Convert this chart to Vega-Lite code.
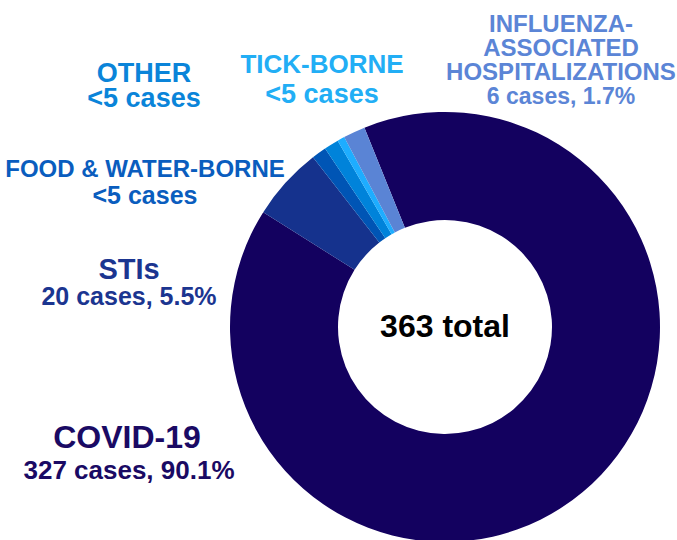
{
  "$schema": "https://vega.github.io/schema/vega-lite/v6.json",
  "width": 430,
  "height": 430,
  "autosize": {"type": "none"},
  "padding": {"left": 230, "top": 112, "right": 17, "bottom": 0},
  "background": "white",
  "config": {"view": {"stroke": null}, "font": "Arial", "text": {"font": "Arial"}},
  "data": {
    "values": [
      {"rank": 1, "category": "COVID-19", "cases": 327, "detail": "327 cases, 90.1%"},
      {"rank": 2, "category": "STIs", "cases": 20, "detail": "20 cases, 5.5%"},
      {"rank": 3, "category": "FOOD & WATER-BORNE", "cases": 4, "detail": "<5 cases"},
      {"rank": 4, "category": "OTHER", "cases": 4, "detail": "<5 cases"},
      {"rank": 5, "category": "TICK-BORNE", "cases": 2, "detail": "<5 cases"},
      {"rank": 6, "category": "INFLUENZA-\nASSOCIATED\nHOSPITALIZATIONS", "cases": 6, "detail": "6 cases, 1.7%"}
    ]
  },
  "transform": [
    {"stack": "cases", "groupby": [], "sort": [{"field": "rank", "order": "ascending"}], "as": ["start", "end"]}
  ],
  "layer": [
    {
      "mark": {"type": "arc", "innerRadius": 107, "outerRadius": 215},
      "encoding": {
        "theta": {"field": "start", "type": "quantitative", "stack": null, "scale": {"domain": [0, 363], "range": [-0.384, 5.899]}},
        "theta2": {"field": "end"},
        "color": {
          "field": "category", "type": "nominal", "legend": null,
          "scale": {
            "domain": ["COVID-19", "STIs", "FOOD & WATER-BORNE", "OTHER", "TICK-BORNE", "INFLUENZA-\nASSOCIATED\nHOSPITALIZATIONS"],
            "range": ["#13015f", "#15328d", "#0055b5", "#0083da", "#1eadff", "#5a84d5"]
          }
        }
      }
    },
    {
      "transform": [{"filter": "datum.rank == 1"}],
      "mark": {"type": "text", "font": "Liberation Sans", "radius": 0, "dx": -318, "dy": 121, "fontSize": 32, "fontWeight": "bold", "fill": "#1a0a64", "align": "center", "baseline": "alphabetic"},
      "encoding": {"theta": {"field": "start", "type": "quantitative", "stack": null}, "text": {"field": "category"}}
    },
    {
      "transform": [{"filter": "datum.rank == 1"}],
      "mark": {"type": "text", "font": "Liberation Sans", "radius": 0, "dx": -316, "dy": 152, "fontSize": 26, "fontWeight": "bold", "fill": "#1a0a64", "align": "center", "baseline": "alphabetic"},
      "encoding": {"theta": {"field": "start", "type": "quantitative", "stack": null}, "text": {"field": "detail"}}
    },
    {
      "transform": [{"filter": "datum.rank == 2"}],
      "mark": {"type": "text", "font": "Liberation Sans", "radius": 0, "dx": -316, "dy": -48, "fontSize": 29, "fontWeight": "bold", "fill": "#1b3590", "align": "center", "baseline": "alphabetic"},
      "encoding": {"theta": {"field": "start", "type": "quantitative", "stack": null}, "text": {"field": "category"}}
    },
    {
      "transform": [{"filter": "datum.rank == 2"}],
      "mark": {"type": "text", "font": "Liberation Sans", "radius": 0, "dx": -316, "dy": -22, "fontSize": 25, "fontWeight": "bold", "fill": "#1b3590", "align": "center", "baseline": "alphabetic"},
      "encoding": {"theta": {"field": "start", "type": "quantitative", "stack": null}, "text": {"field": "detail"}}
    },
    {
      "transform": [{"filter": "datum.rank == 3"}],
      "mark": {"type": "text", "font": "Liberation Sans", "radius": 0, "dx": -300, "dy": -150, "fontSize": 24, "fontWeight": "bold", "fill": "#0a5dbe", "align": "center", "baseline": "alphabetic"},
      "encoding": {"theta": {"field": "start", "type": "quantitative", "stack": null}, "text": {"field": "category"}}
    },
    {
      "transform": [{"filter": "datum.rank == 3"}],
      "mark": {"type": "text", "font": "Liberation Sans", "radius": 0, "dx": -300, "dy": -123, "fontSize": 25, "fontWeight": "bold", "fill": "#0a5dbe", "align": "center", "baseline": "alphabetic"},
      "encoding": {"theta": {"field": "start", "type": "quantitative", "stack": null}, "text": {"field": "detail"}}
    },
    {
      "transform": [{"filter": "datum.rank == 4"}],
      "mark": {"type": "text", "font": "Liberation Sans", "radius": 0, "dx": -301, "dy": -245, "fontSize": 27, "fontWeight": "bold", "fill": "#0a84d9", "align": "center", "baseline": "alphabetic"},
      "encoding": {"theta": {"field": "start", "type": "quantitative", "stack": null}, "text": {"field": "category"}}
    },
    {
      "transform": [{"filter": "datum.rank == 4"}],
      "mark": {"type": "text", "font": "Liberation Sans", "radius": 0, "dx": -301, "dy": -220, "fontSize": 27, "fontWeight": "bold", "fill": "#0a84d9", "align": "center", "baseline": "alphabetic"},
      "encoding": {"theta": {"field": "start", "type": "quantitative", "stack": null}, "text": {"field": "detail"}}
    },
    {
      "transform": [{"filter": "datum.rank == 5"}],
      "mark": {"type": "text", "font": "Liberation Sans", "radius": 0, "dx": -123, "dy": -254, "fontSize": 26, "fontWeight": "bold", "fill": "#22aef5", "align": "center", "baseline": "alphabetic"},
      "encoding": {"theta": {"field": "start", "type": "quantitative", "stack": null}, "text": {"field": "category"}}
    },
    {
      "transform": [{"filter": "datum.rank == 5"}],
      "mark": {"type": "text", "font": "Liberation Sans", "radius": 0, "dx": -123, "dy": -224, "fontSize": 27, "fontWeight": "bold", "fill": "#22aef5", "align": "center", "baseline": "alphabetic"},
      "encoding": {"theta": {"field": "start", "type": "quantitative", "stack": null}, "text": {"field": "detail"}}
    },
    {
      "transform": [{"filter": "datum.rank == 6"}],
      "mark": {"type": "text", "font": "Liberation Sans", "radius": 0, "dx": 116, "dy": -295, "fontSize": 24, "lineHeight": 24, "lineBreak": "\n", "fontWeight": "bold", "fill": "#5b85d6", "align": "center", "baseline": "alphabetic"},
      "encoding": {"theta": {"field": "start", "type": "quantitative", "stack": null}, "text": {"field": "category"}}
    },
    {
      "transform": [{"filter": "datum.rank == 6"}],
      "mark": {"type": "text", "font": "Liberation Sans", "radius": 0, "dx": 116, "dy": -223, "fontSize": 23, "fontWeight": "bold", "fill": "#5b85d6", "align": "center", "baseline": "alphabetic"},
      "encoding": {"theta": {"field": "start", "type": "quantitative", "stack": null}, "text": {"field": "detail"}}
    },
    {
      "transform": [
        {"aggregate": [{"op": "sum", "field": "cases", "as": "total"}]},
        {"calculate": "datum.total + ' total'", "as": "totalLabel"}
      ],
      "mark": {"type": "text", "font": "Liberation Sans", "radius": 0, "dx": 0, "dy": 10, "fontSize": 32, "fontWeight": "bold", "fill": "#000000", "align": "center", "baseline": "alphabetic"},
      "encoding": {"theta": {"datum": 0, "type": "quantitative"}, "text": {"field": "totalLabel"}}
    }
  ]
}
